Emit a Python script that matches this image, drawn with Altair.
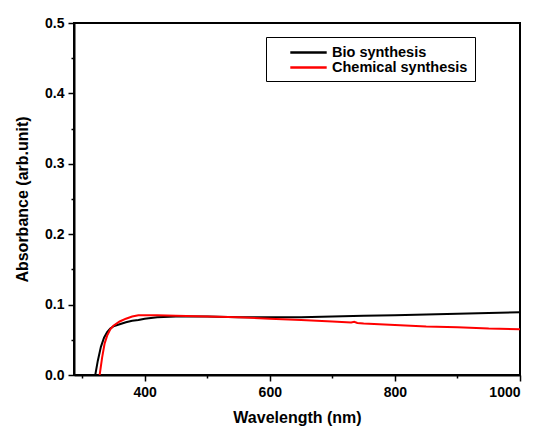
import altair as alt
import pandas as pd

bio_wl = [321, 325, 330, 335, 340, 345, 350, 360, 370, 380, 390, 400, 420, 450, 500, 550, 600, 650, 700, 750, 800, 850, 900, 950, 1000]
bio_abs = [0.0, 0.02, 0.04, 0.053, 0.061, 0.066, 0.069, 0.072, 0.075, 0.077, 0.078, 0.080, 0.082, 0.083, 0.083, 0.082, 0.082, 0.082, 0.083, 0.084, 0.085, 0.086, 0.087, 0.088, 0.089]

chem_wl = [328, 332, 336, 340, 345, 350, 360, 370, 380, 390, 400, 420, 450, 500, 550, 600, 650, 700, 730, 735, 740, 750, 800, 850, 900, 950, 1000]
chem_abs = [0.0, 0.025, 0.045, 0.056, 0.065, 0.070, 0.076, 0.080, 0.083, 0.085, 0.085, 0.085, 0.084, 0.083, 0.082, 0.080, 0.078, 0.076, 0.0745, 0.0755, 0.074, 0.073, 0.071, 0.069, 0.068, 0.066, 0.065]

series = ["Bio synthesis", "Chemical synthesis"]
colors = ["black", "red"]
x_ticks = [300, 400, 500, 600, 700, 800, 900, 1000]
y_ticks = [0.0, 0.05, 0.1, 0.15, 0.2, 0.25, 0.3, 0.35, 0.4, 0.45, 0.5]

df = pd.concat([
    pd.DataFrame({"wl": bio_wl, "abs": bio_abs, "series": series[0], "order": range(len(bio_wl))}),
    pd.DataFrame({"wl": chem_wl, "abs": chem_abs, "series": series[1], "order": range(len(chem_wl))}),
])

font = "Liberation Sans"

chart = alt.Chart(df).mark_line(strokeWidth=2, clip=True).encode(
    x=alt.X("wl:Q", scale=alt.Scale(domain=[287, 1000], nice=False, zero=False),
            axis=alt.Axis(title="Wavelength (nm)", values=x_ticks, format="d",
                          labelExpr="datum.value % 200 == 0 ? datum.label : ''",
                          tickSize={"condition": {"test": "datum.value % 200 == 0", "value": 6}, "value": 3},
                          titlePadding=10, labelPadding=4)),
    y=alt.Y("abs:Q", scale=alt.Scale(domain=[0, 0.5], nice=False),
            axis=alt.Axis(title="Absorbance (arb.unit)", values=y_ticks,
                          labelExpr="round(datum.value*20) % 2 == 0 ? format(datum.value, '.1f') : ''",
                          tickSize={"condition": {"test": "round(datum.value*20) % 2 == 0", "value": 6}, "value": 3},
                          titlePadding=14, labelPadding=4)),
    color=alt.Color("series:N", scale=alt.Scale(domain=series, range=colors),
                    legend=alt.Legend(title=None, orient="none", legendX=192, legendY=14,
                                      symbolType="M-2.6,0H2.6", symbolSize=196, symbolStrokeWidth=2.5,
                                      labelFont=font, labelFontSize=14.5, labelFontWeight="bold",
                                      labelColor="black", padding=7, symbolOffset=27, labelOffset=15,
                                      labelExpr="datum.label + '\u00a0\u00a0\u00a0\u00a0'",
                                      rowPadding=-5, fillColor="white", strokeColor="black")),
    order="order:Q",
).properties(
    width=446, height=352,
    autosize=alt.AutoSizeParams(type="none"),
    padding={"left": 66, "top": 15, "right": 13, "bottom": 56},
).configure_view(
    stroke="black", strokeWidth=2
).configure_axis(
    grid=False, domainColor="black", domainWidth=2, tickColor="black", tickWidth=1.5,
    labelFont=font, labelFontSize=14, labelFontWeight="bold", labelColor="black",
    titleFont=font, titleFontSize=16, titleFontWeight="bold", titleColor="black",
)

chart.save("out.html", embed_options={"renderer": "svg", "actions": False})
